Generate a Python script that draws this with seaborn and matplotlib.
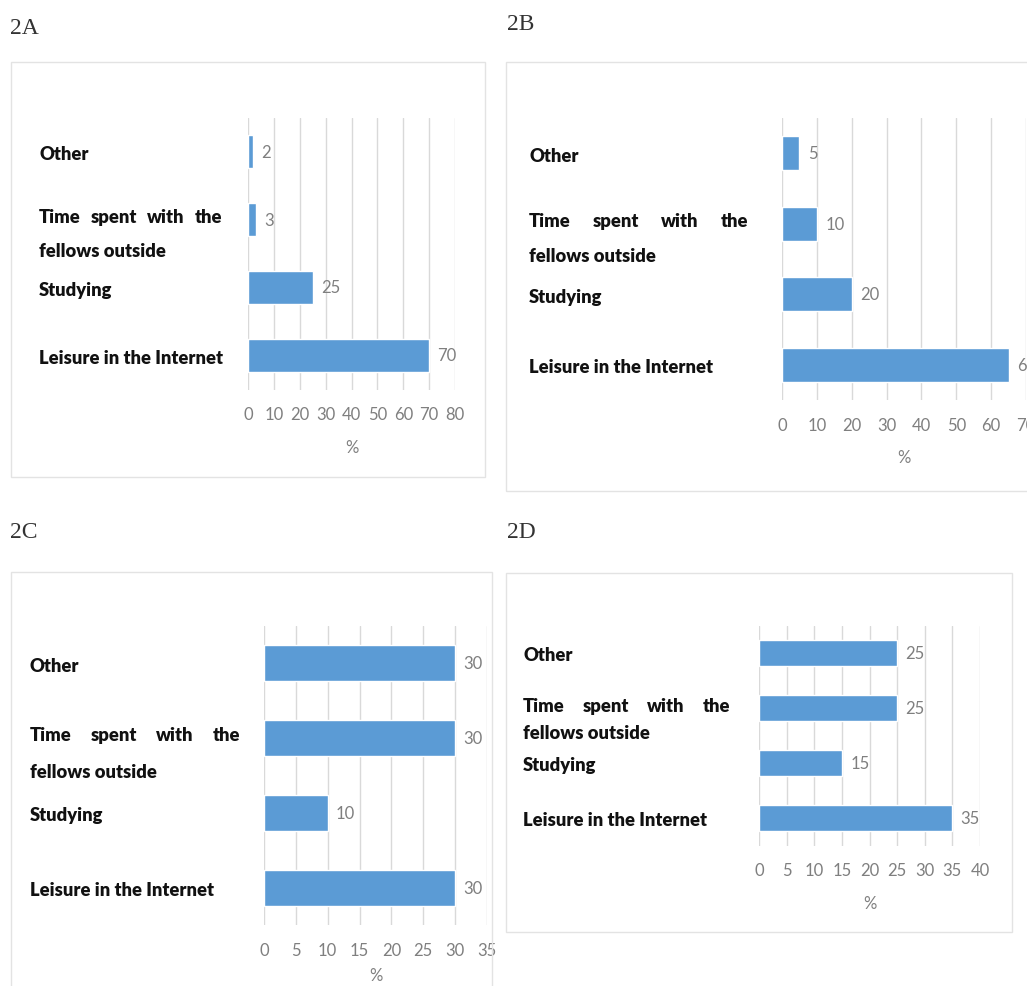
import matplotlib
matplotlib.use('Agg')
import matplotlib.pyplot as plt
import matplotlib.transforms as mtransforms
from matplotlib.patches import Rectangle
import seaborn as sns
import pandas as pd

# data
categories = ['Other', 'Time spent with the fellows outside', 'Studying', 'Leisure in the Internet']
values_2a = [2, 3, 25, 70]
values_2b = [5, 10, 20, 65]
values_2c = [30, 30, 10, 30]
values_2d = [25, 25, 15, 35]
panel_names = ['2A', '2B', '2C', '2D']
x_max = [80, 70, 35, 40]
x_step = [10, 10, 5, 5]

BLUE = '#5B9BD5'
GRID = '#D9D9D9'
GRAY = '#7F7F7F'
W, H = 1027, 987

sns.set_style('white')
plt.rcParams['font.family'] = ['Lato', 'DejaVu Sans']

# layout in pixels: axes (left, top, right, bottom), label left/right, title xy, border (x0, y0, x1, y1)
layout = [
    dict(ax=(248, 118.5, 455, 390.5), lab=(39, 222), title=(10, 28), box=(11, 63, 485, 478), pad=12),
    dict(ax=(782, 119, 1026, 401), lab=(529, 748), title=(507, 25), box=(506, 63, 1040, 492), pad=12),
    dict(ax=(264, 626.5, 487, 926), lab=(30, 240), title=(10, 533), box=(11, 573, 492, 1000), pad=7),
    dict(ax=(759, 626.5, 980, 846.5), lab=(523, 730), title=(507, 533), box=(506, 574, 1012, 933), pad=12),
]

fig = plt.figure(figsize=(W / 100, H / 100), dpi=100)
renderer = fig.canvas.get_renderer()

for name, vals, xm, step, lay in zip(panel_names, [values_2a, values_2b, values_2c, values_2d],
                                      x_max, x_step, layout):
    l, t, r, b = lay['ax']
    ax = fig.add_axes([l / W, 1 - b / H, (r - l) / W, (b - t) / H])
    df = pd.DataFrame({'cat': categories, 'pct': vals})
    sns.barplot(data=df, y='cat', x='pct', orient='h', color=BLUE, width=0.48,
                saturation=1, ax=ax)
    ax.set_xlim(0, xm)
    ax.set_xticks(range(0, xm + 1, step))
    ax.set_ylim(3.5, -0.5)
    ax.grid(axis='x', color=GRID, lw=1)
    ax.set_axisbelow(True)
    for s in ax.spines.values():
        s.set_visible(False)
    ax.tick_params(axis='x', length=0, pad=12, labelsize=12, labelcolor=GRAY)
    ax.tick_params(axis='y', left=False, labelleft=False)
    ax.set_ylabel('')
    ax.set_xlabel('%', color=GRAY, fontsize=12, labelpad=lay['pad'])
    ax.bar_label(ax.containers[0], padding=6, color=GRAY, fontsize=12)

    # category labels, left aligned in front of the plot
    trans = mtransforms.blended_transform_factory(fig.transFigure, ax.transData)
    lx, rx = lay['lab']
    kw = dict(transform=trans, va='center', ha='left', fontweight='heavy', fontsize=13.2,
              color='#111111')
    for i, cat in enumerate(categories):
        words = cat.split()
        if len(words) > 4:
            # justified first line, second line below
            objs = [ax.text(0, i - 0.05, w, **kw) for w in words[:4]]
            widths = [o.get_window_extent(renderer).width for o in objs]
            gap = ((rx - lx) - sum(widths)) / (len(objs) - 1)
            x = lx
            for o, wd in zip(objs, widths):
                o.set_x(x / W)
                x += wd + gap
            ax.text(lx / W, i + 0.45, ' '.join(words[4:]), **kw)
        else:
            ax.text(lx / W, i + 0.03, cat, **kw)

    tx, ty = lay['title']
    fig.text(tx / W, 1 - ty / H, name, family='Liberation Serif', fontsize=17,
             ha='left', va='center', color='#333333')

    x0, y0, x1, y1 = lay['box']
    fig.add_artist(Rectangle((x0 / W, 1 - y1 / H), (x1 - x0) / W, (y1 - y0) / H,
                             transform=fig.transFigure, fill=False, ec='#E3E3E3', lw=1))

# panel 2C is cropped on the right in the original
fig.add_artist(Rectangle((496 / W, 0), 9 / W, 60 / H, transform=fig.transFigure,
                         fc='white', ec='none', zorder=10))

fig.savefig('out.png', dpi=100)
